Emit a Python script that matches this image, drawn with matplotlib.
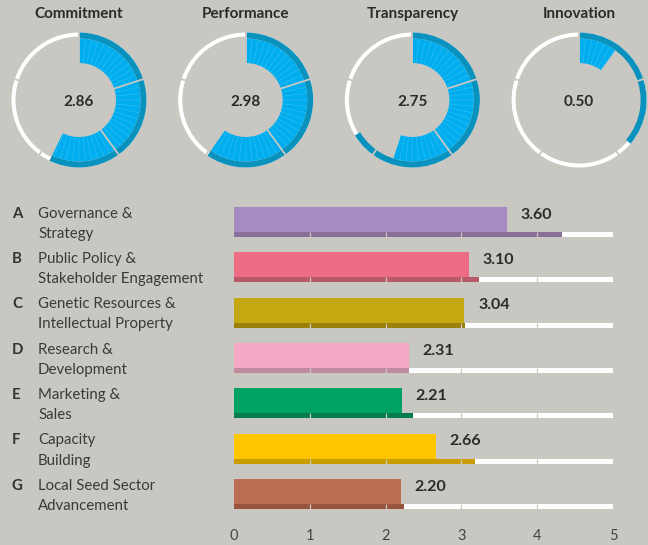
import numpy as np
import matplotlib.pyplot as plt
from matplotlib.patches import Wedge
from matplotlib.transforms import blended_transform_factory

# pillar donuts
pillars = ["Commitment", "Performance", "Transparency", "Innovation"]
pillar_scores = [2.86, 2.98, 2.75, 0.50]
pillar_ring = [2.86, 2.98, 3.31, 1.81]

# measurement areas
letters = ["A", "B", "C", "D", "E", "F", "G"]
areas = ["Governance &\nStrategy",
         "Public Policy &\nStakeholder Engagement",
         "Genetic Resources &\nIntellectual Property",
         "Research &\nDevelopment",
         "Marketing &\nSales",
         "Capacity\nBuilding",
         "Local Seed Sector\nAdvancement"]
area_scores = [3.60, 3.10, 3.04, 2.31, 2.21, 2.66, 2.20]
area_track = [4.33, 3.23, 3.05, 2.31, 2.36, 3.18, 2.24]
bar_colors = ["#A78AC2", "#EE6C84", "#C4A811", "#F4A8C6", "#00A264", "#FFC600", "#BD6F53"]
track_colors = ["#8A6F98", "#B95A6A", "#9A800A", "#C28A9E", "#067D4E", "#C99D00", "#98533E"]
x_ticks = [0, 1, 2, 3, 4, 5]

BG = "#C8C7C2"
LIGHT = "#00AEEF"
DARK = "#0A92BF"
TXT = "#2B2B2B"
plt.rcParams["font.family"] = ["Lato", "DejaVu Sans"]

W, H = 648, 545
fig = plt.figure(figsize=(W / 100, H / 100), dpi=100)
fig.patch.set_facecolor(BG)


def px_axes(x0, y0, x1, y1):
    return fig.add_axes([x0 / W, 1 - y1 / H, (x1 - x0) / W, (y1 - y0) / H])


# donuts: radius 1 == 67.5 px
R = 67.5
lim = 70 / R
for i, (name, score, ring) in enumerate(zip(pillars, pillar_scores, pillar_ring)):
    cx, cy = 79 + 166.7 * i, 100
    ax = px_axes(cx - 70, cy - 70, cx + 70, cy + 70)
    ax.set_xlim(-lim, lim)
    ax.set_ylim(-lim, lim)
    ax.set_aspect("equal")
    ax.axis("off")
    ax.add_patch(Wedge((0, 0), 1, 0, 360, width=4 / R, fc="white", ec="none"))
    ax.add_patch(Wedge((0, 0), 1, 90 - ring * 72, 90, width=6 / R, fc=DARK, ec="none"))
    r_out, r_in = 61.5 / R, 37 / R
    ax.add_patch(Wedge((0, 0), r_out, 90 - score * 72, 90, width=r_out - r_in,
                       fc=LIGHT, ec="none"))
    # fine radial lines inside the light wedge
    for a in np.arange(1 / 12, score, 1 / 12):
        t = np.deg2rad(90 - a * 72)
        ax.plot([r_in * np.cos(t), r_out * np.cos(t)], [r_in * np.sin(t), r_out * np.sin(t)],
                color="#4DC4F0", lw=0.3)
    # gaps between the five unit segments
    for k in range(5):
        t = np.deg2rad(90 - k * 72)
        ax.plot([0.5 * np.cos(t), 1.02 * np.cos(t)], [0.5 * np.sin(t), 1.02 * np.sin(t)],
                color=BG, lw=1.3, solid_capstyle="butt")
    ax.text(0, (cy - 14) / R, name, ha="center", va="center", fontsize=11,
            fontweight="bold", color=TXT)
    ax.text(0, -0.03, f"{score:.2f}", ha="center", va="center", fontsize=11,
            fontweight="bold", color=TXT)

# bars
ax = px_axes(234, 199.3, 613, 516.7)
ax.set_facecolor("none")
ax.set_xlim(0, 5)
ax.set_ylim(6.5, -0.5)
y = np.arange(len(areas))
ax.barh(y - 0.055, area_scores, height=0.551, color=bar_colors)
ax.barh(y + 0.276, 5, height=0.11, color="white")
ax.barh(y + 0.276, area_track, height=0.11, color=track_colors)
for yy in y:
    ax.vlines([1, 2, 3, 4], yy + 0.276 - 0.055, yy + 0.276 + 0.055, color=BG, lw=0.9)
for yy, v in zip(y, area_scores):
    ax.text(v + 0.18, yy - 0.16, f"{v:.2f}", ha="left", va="center", fontsize=11.5,
            fontweight="bold", color=TXT)

trans = blended_transform_factory(fig.transFigure, ax.transData)
for yy, letter, label in zip(y, letters, areas):
    ax.text(12 / W, yy + 0.04, letter + "\n ", transform=trans, ha="left", va="center",
            fontsize=10.8, fontweight="bold", color="#333333", linespacing=1.55)
    ax.text(38 / W, yy + 0.04, label, transform=trans, ha="left", va="center",
            fontsize=10.8, color="#3A3A3A", linespacing=1.55)

ax.set_xticks(x_ticks)
ax.set_xticklabels([str(t) for t in x_ticks])
ax.set_yticks([])
ax.tick_params(axis="x", length=0, pad=9, labelsize=10.5, labelcolor="#444444")
for s in ax.spines.values():
    s.set_visible(False)

fig.savefig("out.png", dpi=100, facecolor=BG)
